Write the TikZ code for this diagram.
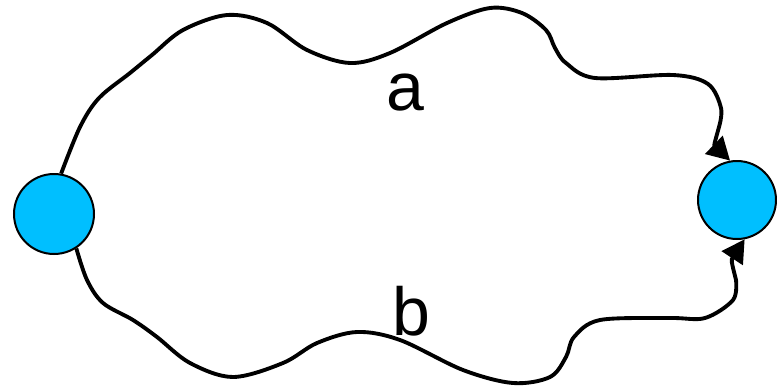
\documentclass[tikz,border=0pt]{standalone}
\usepackage{fontspec}
\setmainfont{Liberation Sans}
\usetikzlibrary{arrows.meta}
\definecolor{ballblue}{RGB}{0,191,255}
\tikzset{
  ball/.style={circle, draw=black, line width=1.5pt, fill=ballblue, inner sep=0pt},
  wire/.style={line width=2.9pt, line join=round, -{Triangle[length=17pt,width=18.5pt]}},
  lbl/.style={font=\fontsize{51}{51}\selectfont, anchor=base, inner sep=0pt}
}
\begin{document}
\begin{tikzpicture}[x=0.75pt,y=-0.75pt]
\useasboundingbox (0,0) rectangle (777,386);
\node[ball, minimum size=60pt] (L) at (54,214) {};
\node[ball, minimum size=58.5pt] (R) at (737,200) {};
\draw[wire] plot[smooth, tension=0.55] coordinates {(L.80) (80,127) (99,98) (130,73) (152,55) (183,30) (227,15) (267,23) (307,50) (350,63) (390,53) (447,23) (490,8) (522,13) (546,30) (555,48) (566,63) (595,78) (673,75) (708,84) (721,108) (719,127)} .. controls (714,145) .. (R.100);
\draw[wire] plot[smooth, tension=0.55] coordinates {(L.-57) (87,280) (103,303) (133,320) (157,337) (190,363) (233,377) (283,363) (317,343) (357,332) (400,340) (463,370) (513,383) (550,377) (566,357) (574,337) (600,320) (670,318) (705,318) (733,300) (736,280)} .. controls (731,260) .. (R.-79);
\node[lbl] (la) at (405,110) {a};
\node[lbl] (lb) at (411,335) {b};
\end{tikzpicture}
\end{document}
